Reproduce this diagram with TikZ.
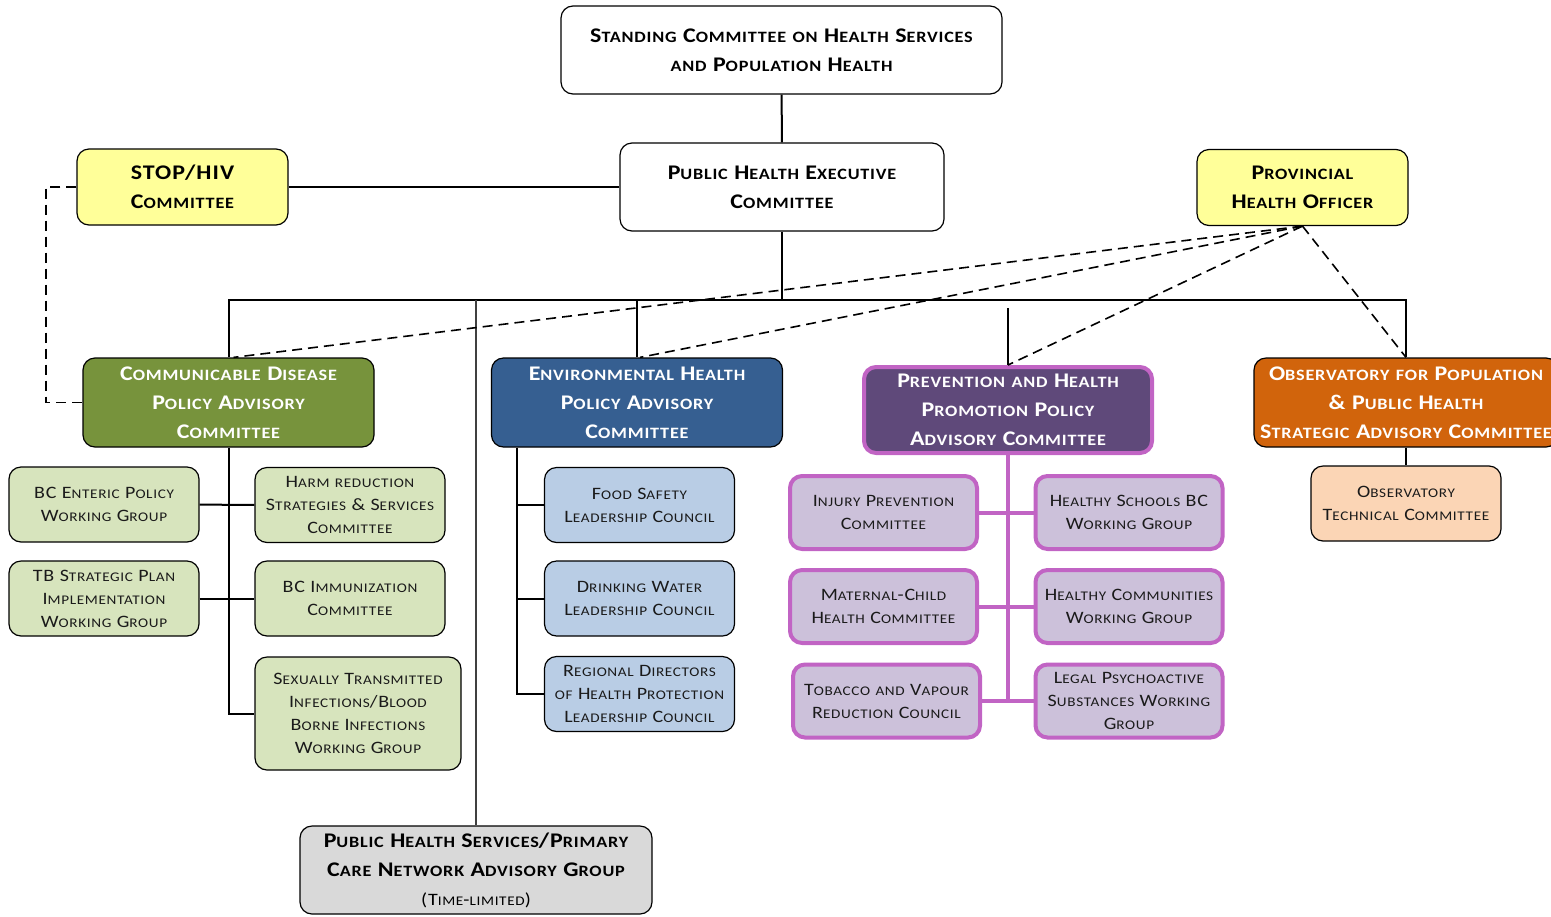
\documentclass[tikz,border=0pt]{standalone}
\usepackage{fontspec}
\setmainfont{Carlito}[FakeStretch = 1.15, LetterSpace = 5]

\definecolor{offyellow}{HTML}{FFFF99}
\definecolor{cdgreen}{HTML}{77933C}
\definecolor{cdlight}{HTML}{D7E4BD}
\definecolor{ehblue}{HTML}{365F91}
\definecolor{ehlight}{HTML}{B9CDE5}
\definecolor{phppurple}{HTML}{5F497A}
\definecolor{phplight}{HTML}{CCC1DA}
\definecolor{phpedge}{HTML}{C164C4}
\definecolor{obsorange}{HTML}{D1640C}
\definecolor{obslight}{HTML}{FBD5B5}
\definecolor{phsgray}{HTML}{D9D9D9}
\definecolor{inktext}{HTML}{1A1A1A}

% fake small caps: lower case letters set as smaller capitals
\makeatletter
\newcommand\scsmall{\fontsize{\fpeval{0.76*\f@size}}{\f@baselineskip}\selectfont}
\makeatother
\ExplSyntaxOn
\seq_new:N \l_fsc_words_seq
\bool_new:N \l_fsc_first_bool
\cs_new_protected:Npn \fsc_char:N #1
  {
    \bool_lazy_and:nnTF
      { ! \int_compare_p:nNn { \char_value_uccode:n {`#1} } = { 0 } }
      { ! \int_compare_p:nNn { \char_value_uccode:n {`#1} } = { `#1 } }
      { { \scsmall \text_uppercase:n {#1} } }
      { #1 }
  }
\NewDocumentCommand \SC { m }
  {
    \seq_set_split:Nnn \l_fsc_words_seq { ~ } {#1}
    \bool_set_true:N \l_fsc_first_bool
    \seq_map_inline:Nn \l_fsc_words_seq
      {
        \bool_if:NF \l_fsc_first_bool { ~ }
        \bool_set_false:N \l_fsc_first_bool
        \tl_map_function:nN {##1} \fsc_char:N
      }
  }
\ExplSyntaxOff

\newcommand\headfont{\fontsize{10.4}{14.5}\selectfont\bfseries}
\newcommand\subfont{\fontsize{8.7}{11.5}\selectfont}

\tikzstyle{box} = [draw, rounded corners = 6pt, align = center, inner sep = 1pt, line width = 0.6pt]
\tikzstyle{white box} = [box, fill = white, font = \headfont]
\tikzstyle{yellow box} = [box, fill = offyellow, font = \headfont, minimum width = 105.5pt, minimum height = 38pt]
\tikzstyle{head} = [box, text = white, font = \headfont, minimum width = 145.5pt, minimum height = 44.5pt]
\tikzstyle{sub} = [box, text = inktext, font = \subfont, minimum width = 95pt, minimum height = 37.5pt]
\tikzstyle{purple sub} = [sub, fill = phplight, draw = phpedge, line width = 2pt, minimum width = 93.5pt, minimum height = 36.5pt]
\tikzstyle{path} = [draw, line width = 1pt]
\tikzstyle{dashed line} = [draw, line width = 0.8pt, dash pattern = on 5pt off 3pt]

\begin{document}
\begin{tikzpicture}[x = 0.5pt, y = -0.5pt]
    \useasboundingbox (0, 0) rectangle (1551, 916);

    % top of the chart
    \node[white box, minimum width = 220.5pt, minimum height = 44pt] (scc) at (781.5, 50)
        {\SC{Standing Committee on Health Services\\and Population Health}};
    \node[white box, minimum width = 162pt, minimum height = 44pt] (phec) at (782, 187)
        {\SC{Public Health Executive\\Committee}};
    \node[yellow box] (stop) at (182.5, 187) {\SC{STOP/HIV\\Committee}};
    \node[yellow box] (pho) at (1302.5, 187.5) {\SC{Provincial\\Health Officer}};

    % policy advisory committees
    \node[head, fill = cdgreen] (cd) at (228.5, 402.5) {\SC{Communicable Disease\\Policy Advisory\\Committee}};
    \node[head, fill = ehblue] (eh) at (637, 402.5) {\SC{Environmental Health\\Policy Advisory\\Committee}};
    \node[head, fill = phppurple, draw = phpedge, line width = 2pt, minimum width = 144pt, minimum height = 43pt]
        (php) at (1008, 410) {\SC{Prevention and Health\\Promotion Policy\\Advisory Committee}};
    \node[head, fill = obsorange, minimum width = 152pt] (obs) at (1406, 402.5)
        {\SC{Observatory for Population\\\& Public Health\\Strategic Advisory Committee}};
    \node[sub, fill = obslight] (obstech) at (1406, 503.5) {\SC{Observatory\\Technical Committee}};

    % communicable disease groups
    \node[sub, fill = cdlight] (enteric) at (104, 504.5) {\SC{BC Enteric Policy\\Working Group}};
    \node[sub, fill = cdlight] (harm) at (350, 505) {\SC{Harm reduction\\Strategies \& Services\\Committee}};
    \node[sub, fill = cdlight] (tb) at (104, 598.5) {\SC{TB Strategic Plan\\Implementation\\Working Group}};
    \node[sub, fill = cdlight] (immun) at (350, 598.5) {\SC{BC Immunization\\Committee}};
    \node[sub, fill = cdlight, minimum width = 103pt, minimum height = 56.5pt] (sti) at (358, 713.5)
        {\SC{Sexually Transmitted\\Infections/Blood\\Borne Infections\\Working Group}};

    % environmental health councils
    \node[sub, fill = ehlight] (food) at (639.5, 505) {\SC{Food Safety\\Leadership Council}};
    \node[sub, fill = ehlight] (water) at (639.5, 598.5) {\SC{Drinking Water\\Leadership Council}};
    \node[sub, fill = ehlight] (regional) at (639.5, 694) {\SC{Regional Directors\\of Health Protection\\Leadership Council}};

    % prevention groups
    \node[purple sub] (injury) at (883.5, 512.5) {\SC{Injury Prevention\\Committee}};
    \node[purple sub] (schools) at (1129, 512.5) {\SC{Healthy Schools BC\\Working Group}};
    \node[purple sub] (maternal) at (883.5, 606.5) {\SC{Maternal-Child\\Health Committee}};
    \node[purple sub] (communities) at (1129, 606.5) {\SC{Healthy Communities\\Working Group}};
    \node[purple sub] (tobacco) at (886.5, 701) {\SC{Tobacco and Vapour\\Reduction Council}};
    \node[purple sub] (legal) at (1129, 701) {\SC{Legal Psychoactive\\Substances Working\\Group}};

    \node[box, fill = phsgray, font = \headfont, minimum width = 176pt, minimum height = 44pt] (phs) at (476, 870)
        {\SC{Public Health Services/Primary\\Care Network Advisory Group}\\{\subfont\mdseries\SC{(Time-limited)}}};

    \coordinate (bus) at (782, 300);
    \coordinate (phpdrop) at (1008, 308);
    \coordinate (stopturn) at (46, 187);

    \path[path] (scc) -- (phec);
    \path[path] (stop) -- (phec);
    \path[path] (phec) -- (phec |- bus);
    \path[path] (cd.north) -- (cd.north |- bus) -- (obs.north |- bus) -- (obs.north);
    \path[path] (eh.north) -- (eh.north |- bus);
    \path[draw, line width = 0.6pt, black!75] (phs.north) -- (phs.north |- bus);
    \path[path] (phpdrop) -- (php.north);
    \path[path] (obs) -- (obstech);

    \path[path] (cd.south) -- (cd.south |- sti.west) -- (sti.west);
    \path[path] (enteric) -- (harm);
    \path[path] (tb) -- (immun);

    \path[path] ([xshift = 13pt]eh.south west) -- ([xshift = 13pt]eh.south west |- regional.west) -- (regional.west);
    \path[path] ([xshift = 13pt]eh.south west |- food.west) -- (food.west);
    \path[path] ([xshift = 13pt]eh.south west |- water.west) -- (water.west);

    \path[draw, phpedge, line width = 2pt] (php.south) -- (php.south |- tobacco.east);
    \path[draw, phpedge, line width = 2pt] (injury) -- (schools);
    \path[draw, phpedge, line width = 2pt] (maternal) -- (communities);
    \path[draw, phpedge, line width = 2pt] (tobacco) -- (legal);

    \path[dashed line] (stop.west) -- (stopturn) |- (cd.west);
    \path[dashed line] (pho.south) -- ([xshift = 2.5pt]cd.north);
    \path[dashed line] (pho.south) -- ([xshift = 1.5pt]eh.north);
    \path[dashed line] (pho.south) -- (php.north);
    \path[dashed line] (pho.south) -- (obs.north);
\end{tikzpicture}
\end{document}
